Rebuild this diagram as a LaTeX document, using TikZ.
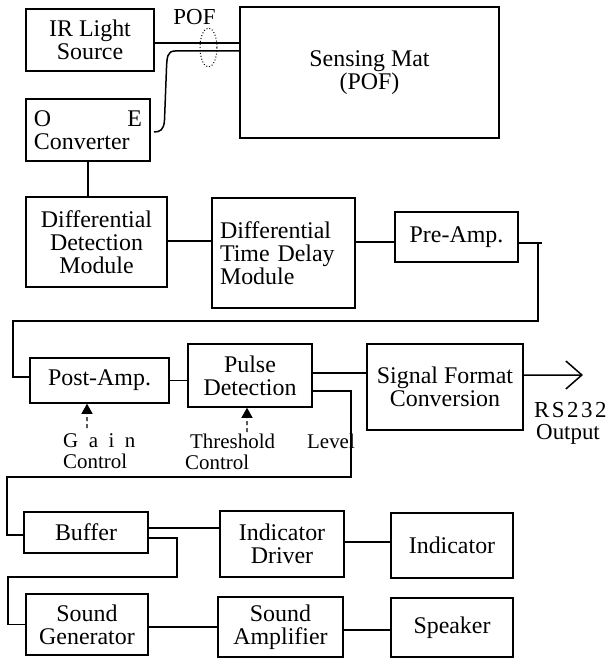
\documentclass[tikz,border=0pt]{standalone}
\usepackage{fontspec}
\setmainfont{Liberation Serif}
\usetikzlibrary{arrows.meta,shapes.geometric}
\begin{document}
\begin{tikzpicture}[x=1bp,y=-1bp,
  box/.style={draw, line width=1.5bp, inner sep=0pt, align=center, font=\fontsize{24}{23}\selectfont},
  wire/.style={line width=1.5bp},
  lbl/.style={inner sep=0pt, align=left, font=\fontsize{21}{21}\selectfont},
  ctrl/.style={line width=1.2bp, dash pattern=on 4bp off 3bp, -{Triangle[length=10bp,width=11bp]}}]
\path[use as bounding box, fill=white] (0,0) rectangle (611,662);

% boxes
\node[box, minimum width=128bp, minimum height=62bp] (ir) at (90,40) {IR Light\\Source};
\node[box, minimum width=259bp, minimum height=131bp] (mat) at (369.5,72.5) {Sensing Mat\\(POF)};
\node[box, minimum width=124bp, minimum height=62bp, text width=108bp, align=left] (oe) at (88,130) {O\hfill E\\Converter};
\node[box, minimum width=141bp, minimum height=90bp] (ddm) at (96.5,242) {Differential\\Detection\\Module};
\node[box, minimum width=143bp, minimum height=110bp, text width=127bp, align=left] (dtdm) at (283.5,253) {Differential\\Time Delay\\Module};
\node[box, minimum width=123bp, minimum height=50bp] (pre) at (456.5,237) {Pre-Amp.};
\node[box, minimum width=139bp, minimum height=45bp] (post) at (99.5,380.5) {Post-Amp.};
\node[box, minimum width=124bp, minimum height=63bp] (pulse) at (250,375.5) {Pulse\\Detection};
\node[box, minimum width=156bp, minimum height=86bp] (sfc) at (445,387) {Signal Format\\Conversion};
\node[box, minimum width=124bp, minimum height=41bp] (buf) at (86,532.5) {Buffer};
\node[box, minimum width=124bp, minimum height=66bp] (drv) at (282,544) {Indicator\\Driver};
\node[box, minimum width=122bp, minimum height=65bp] (ind) at (452,545.5) {Indicator};
\node[box, minimum width=122bp, minimum height=61bp] (sgen) at (87,624.5) {Sound\\Generator};
\node[box, minimum width=125bp, minimum height=60bp] (samp) at (280.5,627) {Sound\\Amplifier};
\node[box, minimum width=122bp, minimum height=59bp] (spk) at (452,627.5) {Speaker};

% labels
\node[inner sep=0pt, font=\fontsize{23}{23}\selectfont] (poflbl) at (194.5,17) {POF};
\node[draw, dotted, line width=1bp, ellipse, inner sep=0pt, minimum width=17bp, minimum height=39bp] (bundle) at (208.5,47.5) {};
\node[lbl, anchor=west] (gain) at (63,451.5) {G\enspace a\enspace i\enspace n\\Control};
\node[lbl, anchor=west] (thr) at (185,451.5) {\hspace*{5bp}Threshold\\Control};
\node[lbl, anchor=west] (lev) at (307,441) {Level};
\node[inner sep=0pt, anchor=west, font=\fontsize{23}{23}\selectfont] (rs) at (534,410) {R\kern2.5bp S\kern2.5bp 2\kern2.5bp 3\kern2.5bp 2};
\node[inner sep=0pt, anchor=west, font=\fontsize{23}{23}\selectfont] (outlbl) at (536,434) {Output};

% coordinates
\coordinate (f2) at (154,132);
\coordinate (c1) at (538,321);
\coordinate (c2) at (13,321);
\coordinate (c3) at (351,477);
\coordinate (c4) at (7,477);
\coordinate (c5) at (177,577);
\coordinate (c6) at (8,577);
\coordinate (rsout) at (583,375);
\coordinate (g0) at (87,428);
\coordinate (t0) at (247,432);

% fibres
\draw[wire] ([yshift=-3bp]ir.east) -- ([yshift=-3bp]ir.east -| mat.west);
\draw[wire] ([yshift=21.5bp]mat.west) -- (175,51) .. controls (167,51) and (167,58) .. (166.5,68)
  -- (164.5,120) .. controls (164,130) and (160,132) .. (f2);

% connectors
\draw[wire] (oe.south) -- (oe.south |- ddm.north);
\draw[wire] ([yshift=1bp]ddm.east) -- ([yshift=1bp]ddm.east -| dtdm.west);
\draw[wire] ([yshift=-5bp]pre.west) -- ([yshift=-5bp]pre.west -| dtdm.east);
\draw[wire] ([yshift=-6bp]pre.east) -- ++(23,0);
\draw[wire] ([yshift=-6bp]pre.east) -| (c1) -- (c2) |- ([yshift=3.5bp]post.west);
\draw[wire] (post.east) -- (post.east -| pulse.west);
\draw[wire] ([yshift=2.5bp]pulse.east) -- ([yshift=2.5bp]pulse.east -| sfc.west);
\draw[wire] ([yshift=-15.5bp]pulse.east) -| (c3) -- (c4) |- ([yshift=-2.5bp]buf.west);
\draw[wire] ([yshift=4.5bp]buf.east) -- ([yshift=4.5bp]buf.east -| drv.west);
\draw[wire] ([yshift=-5.5bp]buf.east) -| (c5) -- (c6) |- (sgen.west);
\draw[wire] ([yshift=-2.5bp]sgen.east) -- ([yshift=-2.5bp]sgen.east -| samp.west);
\draw[wire] ([yshift=2bp]drv.east) -- ([yshift=2bp]drv.east -| ind.west);
\draw[wire] ([yshift=-3bp]samp.east) -- ([yshift=-3bp]samp.east -| spk.west);
\draw[wire, -{Straight Barb[length=16bp,width=28bp]}] ([yshift=12bp]sfc.east) -- (rsout);
\draw[ctrl] (g0) -- ([xshift=-12.5bp]post.south);
\draw[ctrl] (t0) -- ([xshift=-3bp]pulse.south);
\end{tikzpicture}
\end{document}
